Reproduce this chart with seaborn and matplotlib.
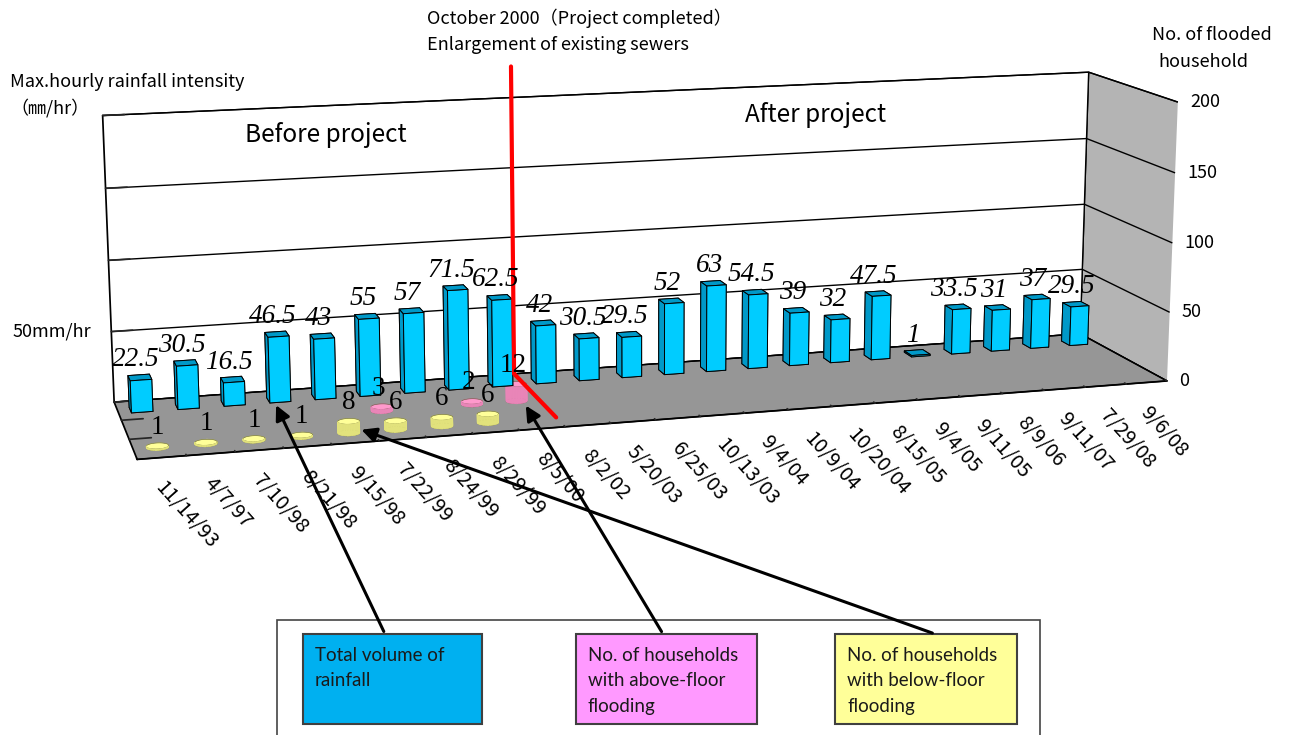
import numpy as np
import matplotlib
matplotlib.use("Agg")
import matplotlib.pyplot as plt
import seaborn as sns
from matplotlib.patches import Rectangle, FancyArrowPatch
from mpl_toolkits.mplot3d import proj3d
from mpl_toolkits.mplot3d.art3d import Poly3DCollection

# ---- data -------------------------------------------------------------
dates = ["11/14/93", "4/7/97", "7/10/98", "8/21/98", "9/15/98", "7/22/99",
         "8/24/99", "8/29/99", "8/5/00", "8/2/02", "5/20/03", "6/25/03",
         "10/13/03", "9/4/04", "10/9/04", "10/20/04", "8/15/05", "9/4/05",
         "9/11/05", "8/9/06", "9/11/07", "7/29/08", "9/6/08"]
rainfall = [22.5, 30.5, 16.5, 46.5, 43, 55, 57, 71.5, 62.5, 42, 30.5, 29.5,
            52, 63, 54.5, 39, 32, 47.5, 1, 33.5, 31, 37, 29.5]
above_floor = [0, 0, 0, 0, 0, 3, 0, 2, 12, 0, 0, 0,
               0, 0, 0, 0, 0, 0, 0, 0, 0, 0, 0]
below_floor = [1, 1, 1, 1, 8, 6, 6, 6, 0, 0, 0, 0,
               0, 0, 0, 0, 0, 0, 0, 0, 0, 0, 0]
z_ticks = [0, 50, 100, 150, 200]
project_done = 8.5   # boundary between 8/5/00 and 8/2/02

# ---- style ------------------------------------------------------------
sns.set_theme(style="white")
plt.rcParams["font.family"] = ["Noto Sans CJK JP", "DejaVu Sans"]
plt.rcParams["text.color"] = "black"

rain_col = sns.color_palette(["#00CCFF"])[0]
rain_dark = "#0099C8"
pink_top, pink_side = "#FF99CC", "#E985B8"
yel_top, yel_side = "#FFFF99", "#E2E27C"

W, H = 1292, 735
fig = plt.figure(figsize=(W / 100, H / 100), dpi=100)
ax = fig.add_axes([-0.0146, 0.247, 1.02, 0.80], projection="3d")

n = len(dates)
xs = np.arange(n)
ROW_BELOW, ROW_ABOVE, ROW_RAIN = 0.5, 1.5, 2.5
ASPECT = (5.5, 1.12, 1.52)
ax.set_xlim(-0.5, n - 0.5)
ax.set_ylim(0, 3)
ax.set_zlim(0, 200)
ax.set_box_aspect(ASPECT, zoom=1.825)
ax.set_proj_type("persp", focal_length=0.9)
ax.view_init(elev=12, azim=-106)

# panes
ax.xaxis.set_pane_color("#b4b4b4")
ax.yaxis.set_pane_color("white")
ax.zaxis.set_pane_color("#969696")
for a in (ax.xaxis, ax.yaxis, ax.zaxis):
    a.pane.set_edgecolor("black")
    a.pane.set_linewidth(1.0)
    a.line.set_color("black")
    a._axinfo["tick"]["inward_factor"] = 0.0
    a._axinfo["tick"]["outward_factor"] = 0.25
    a._axinfo["tick"]["color"] = "black"

ax.grid(True)
ax.xaxis._axinfo["grid"].update(linewidth=0, color=(0, 0, 0, 0))
ax.yaxis._axinfo["grid"].update(linewidth=0, color=(0, 0, 0, 0))
ax.zaxis._axinfo["grid"].update(linewidth=1.0, color="black", linestyle="-")

ax.set_xticks(np.arange(-0.5, n, 1.0))
ax.set_xticklabels([])
ax.set_yticks([1, 2])
ax.set_yticklabels([])
ax.set_zticks(z_ticks)
ax.set_zticklabels([])

# ---- rainfall bars ----------------------------------------------------
bw, bd = 0.46, 0.30
faces = ["#007FA8", rain_dark, rain_col, rain_dark, rain_dark, rain_dark]
bars = ax.bar3d(xs - bw / 2, np.full(n, ROW_RAIN) - bd / 2, np.zeros(n),
                bw, bd, rainfall, color=faces * n, edgecolor="black",
                linewidth=0.7, shade=False)
bars.set_clip_on(False)

# ---- household cylinders ---------------------------------------------
rx = 0.23
ry = rx * (ASPECT[0] / n) / (ASPECT[1] / 3)


def cylinder(xc, yc, h, top, side):
    th = np.linspace(0, 2 * np.pi, 41)
    cx = xc + rx * np.cos(th)
    cy = yc + ry * np.sin(th)
    polys, fcs, ecs, lws = [], [], [], []
    polys.append(list(zip(cx, cy, np.zeros_like(cx))))
    fcs.append(side); ecs.append("#555533"); lws.append(0.6)
    for k in range(len(th) - 1):
        polys.append([(cx[k], cy[k], 0), (cx[k + 1], cy[k + 1], 0),
                      (cx[k + 1], cy[k + 1], h), (cx[k], cy[k], h)])
        fcs.append(side); ecs.append(side); lws.append(0.4)
    polys.append(list(zip(cx, cy, np.full_like(cx, h))))
    fcs.append(top); ecs.append("#555533"); lws.append(0.6)
    pc = Poly3DCollection(polys, facecolors=fcs, edgecolors=ecs,
                          linewidths=lws, zsort="average")
    ax.add_collection3d(pc)
    pc.set_clip_on(False)


for i in range(n):
    if below_floor[i] > 0:
        cylinder(i, ROW_BELOW, below_floor[i], yel_top, yel_side)
    if above_floor[i] > 0:
        cylinder(i, ROW_ABOVE, above_floor[i], pink_top, pink_side)

# project completion marker
red, = ax.plot([project_done] * 3, [3.0, 3.0, 0.5], [222, 0, 0],
               color="red", lw=3, zorder=90)
red.set_clip_on(False)

# ---- figure texts ----------------------------------------------------
def ftext(x, y, s, **kw):
    fig.text(x / W, 1 - y / H, s, **kw)


ftext(427, 18, "October 2000（Project completed）", fontsize=13, va="center")
ftext(427, 45, "Enlargement of existing sewers", fontsize=13, va="center")
ftext(10, 82, "Max.hourly rainfall intensity", fontsize=13, va="center")
ftext(10, 108, "（㎜/hr）", fontsize=13, va="center")
ftext(1152, 35, "No. of flooded", fontsize=13, va="center")
ftext(1158, 62, "household", fontsize=13, va="center")
ftext(245, 135, "Before project", fontsize=17.5, va="center")
ftext(745, 115, "After project", fontsize=17.5, va="center")

# ---- key boxes -------------------------------------------------------
def frect(x0, y0, x1, y1, **kw):
    r = Rectangle((x0 / W, 1 - y1 / H), (x1 - x0) / W, (y1 - y0) / H,
                  transform=fig.transFigure, **kw)
    fig.add_artist(r)


frect(277, 620, 1040, 745, facecolor="white", edgecolor="#444444", lw=1.2)
keys = [(303, 482, "#00B0F0", "Total volume of\nrainfall"),
        (576, 757, "#FF99FF", "No. of households\nwith above-floor\nflooding"),
        (835, 1017, "#FFFF99", "No. of households\nwith below-floor\nflooding")]
for x0, x1, c, s in keys:
    frect(x0, 634, x1, 724, facecolor=c, edgecolor="#404040", lw=1.5)
    fig.text((x0 + 12) / W, 1 - 647 / H, s, family="Lato", fontsize=13.5,
             va="top", ha="left", linespacing=1.6, color="#1a1a1a")

# ---- labels placed on the projected 3-D scene ------------------------
fig.canvas.draw()
M = ax.get_proj()


def to_fig(x, y, z):
    px, py, _ = proj3d.proj_transform(x, y, z, M)
    disp = ax.transData.transform((px, py))
    return fig.transFigure.inverted().transform(disp)


def ptext(xyz, s, dx=0, dy=0, **kw):
    fx, fy = to_fig(*xyz)
    fig.text(fx + dx / W, fy + dy / H, s, **kw)


def fmt(v):
    return f"{v:g}"


value_kw = dict(family="Liberation Serif", fontsize=19.5, ha="center",
                va="bottom", color="black")
for i, v in enumerate(rainfall):
    ptext((i, ROW_RAIN, v), fmt(v), dx=-4, dy=5, style="italic", **value_kw)
for i, v in enumerate(below_floor):
    if v > 0:
        ptext((i, ROW_BELOW, v), fmt(v), dy=6, **value_kw)
for i, v in enumerate(above_floor):
    if v > 0:
        ptext((i, ROW_ABOVE, v), fmt(v), dx=-3, dy=6, **value_kw)

# household axis on the right-hand front edge
for v in z_ticks:
    ptext((n - 0.5, 0, v), str(v), dx=12, ha="left", va="center",
          fontsize=13)

# rainfall reference level on the left
ptext((-0.5, 3.0, 50), "50mm/hr", dx=-20, ha="right", va="center",
      fontsize=13)

# date labels along the front edge, rotated
for i, d in enumerate(dates):
    ptext((i, 0, 0), d, dx=-3, dy=-27, rotation=-48,
          rotation_mode="anchor", ha="left", va="center", fontsize=14.5)

# pointers from the key boxes to the marks they describe
targets = [((385, 634), (3 - 0.12, ROW_RAIN - bd / 2, 0)),
           ((663, 634), (8 + 0.12, ROW_ABOVE - ry, 0)),
           ((935, 634), (4 + 0.2, ROW_BELOW - ry * 0.3, 3))]
for (sx, sy), (tx, ty, tz) in targets:
    end = to_fig(tx, ty, tz)
    arr = FancyArrowPatch((sx / W, 1 - sy / H), tuple(end),
                          transform=fig.transFigure, arrowstyle="-|>",
                          mutation_scale=22, lw=2.2, color="black")
    fig.add_artist(arr)

fig.savefig("out.png", dpi=100)
